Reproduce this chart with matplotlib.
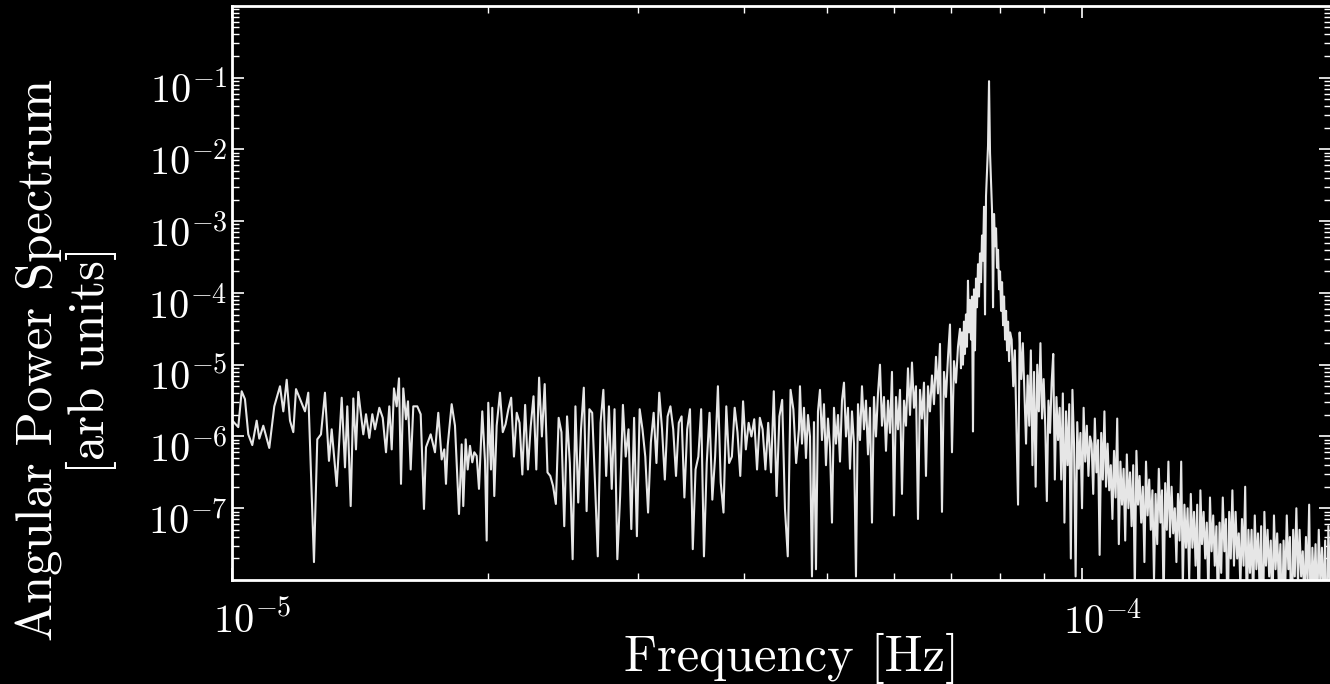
import matplotlib
matplotlib.use("Agg")
import matplotlib.pyplot as plt
import matplotlib.ticker as ticker
import matplotlib.transforms as mtransforms
import numpy as np

# all frequencies below are in units of 1e-5 Hz, powers are log10(P)
F_UNIT = 1e-5

# low-frequency part, read point by point
FREQ_LOW = [
    1.0000, 1.0158, 1.0252, 1.0344, 1.0437, 1.0551, 1.0677, 1.0753, 1.0870, 1.1048,
    1.1199, 1.1374, 1.1476, 1.1582, 1.1686, 1.1791, 1.1878, 1.2170, 1.2279, 1.2470,
    1.2582, 1.2709, 1.2847, 1.2987, 1.3083, 1.3262, 1.3443, 1.3563, 1.3648, 1.3774,
    1.3872, 1.3973, 1.4061, 1.4253, 1.4358, 1.4487, 1.4605, 1.4712, 1.4885, 1.5023,
    1.5157, 1.5293, 1.5393, 1.5488, 1.5602, 1.5700, 1.5785, 1.5883, 1.6000, 1.6087,
    1.6205, 1.6320, 1.6497, 1.6650, 1.6799, 1.6891, 1.7107, 1.7307, 1.7463, 1.7624,
    1.7749, 1.7831, 1.7913, 1.8108, 1.8271, 1.8470, 1.8606, 1.8686, 1.8808, 1.8911,
    1.9029, 1.9148, 1.9252, 1.9377, 1.9498, 1.9673, 1.9818, 1.9909, 1.9995, 2.0142,
    2.0213, 2.0323, 2.0455,
]
LOGP_LOW = [
    -5.78, -5.87, -5.37, -5.48, -5.97, -6.12, -5.78, -6.03, -5.85, -6.16,
    -5.58, -5.30, -5.65, -5.21, -5.78, -5.94, -5.34, -5.65, -5.39, -7.75,
    -6.04, -5.97, -5.39, -6.34, -5.90, -6.69, -5.46, -6.43, -5.58, -6.97,
    -5.47, -6.18, -5.38, -5.97, -5.69, -6.02, -5.69, -5.90, -5.60, -5.74,
    -6.22, -5.58, -6.18, -5.33, -5.58, -5.19, -6.66, -5.33, -5.76, -5.51,
    -6.46, -5.58, -5.58, -5.69, -7.01, -6.15, -5.97, -6.22, -5.67, -6.32,
    -6.18, -6.66, -6.13, -5.55, -5.85, -7.08, -6.11, -6.97, -6.04, -6.46,
    -6.13, -6.36, -6.22, -6.27, -6.73, -5.65, -6.34, -7.45, -5.53, -6.46,
    -5.60, -6.83, -5.85,
]

# denser parts: values read left to right, evenly spaced along the log axis
# between the band edges given
BAND_MID = (2.064, 4.639)
LOGP_MID = [
    -5.39, -5.94, -5.83, -5.62, -5.46, -6.28, -5.67, -5.81, -6.53, -5.56,
    -6.46, -5.86, -5.44, -6.46, -5.18, -6.00, -5.27, -6.50, -6.55, -6.69,
    -6.94, -5.74, -5.94, -7.25, -5.72, -6.37, -7.71, -5.58, -6.92, -5.90,
    -5.32, -7.04, -5.62, -5.67, -6.64, -7.67, -5.81, -5.35, -6.55, -5.58,
    -6.73, -5.62, -7.71, -6.83, -5.56, -6.28, -5.90, -7.29, -5.74, -7.39,
    -5.62, -5.90, -6.28, -7.06, -6.08, -5.67, -6.37, -5.39, -5.90, -6.60,
    -5.72, -5.58, -5.90, -6.55, -5.81, -5.72, -6.85, -5.90, -5.62, -7.57,
    -6.46, -6.28, -5.62, -7.67, -6.37, -5.67, -6.88, -6.28, -5.30, -6.64,
    -7.06, -5.58, -6.37, -6.28, -5.60, -5.94, -6.55, -5.51, -6.18, -5.81,
    -6.00, -5.76, -6.46, -5.74, -5.90, -6.46, -5.81, -6.50, -5.37, -6.83,
    -5.72, -5.49, -7.01, -7.67, -5.35, -5.62, -6.37, -5.90,
]

BAND_FLANK = (4.652, 7.176)
LOGP_FLANK = [
    -5.30, -6.10, -5.60, -6.30, -5.70, -6.00, -7.95, -5.80, -7.85, -5.65,
    -5.35, -6.05, -5.55, -6.40, -5.75, -6.15, -7.20, -5.60, -6.10, -5.70,
    -6.35, -5.50, -5.25, -6.00, -5.60, -6.45, -5.65, -6.10, -7.95, -5.55,
    -6.05, -5.30, -5.90, -5.50, -6.25, -5.60, -7.20, -5.45, -6.00, -5.40,
    -5.00, -5.85, -5.45, -6.20, -5.50, -5.95, -5.10, -7.10, -5.45, -5.90,
    -5.35, -6.80, -5.50, -5.85, -5.05, -5.70, -4.97, -5.60, -5.30, -7.15,
    -5.35, -5.75, -5.25, -6.55, -5.30, -5.65, -5.15, -5.55, -4.89, -5.40,
    -4.71, -7.05, -5.10, -5.45, -4.90, -4.44, -6.22, -4.95, -5.25, -4.75,
    -4.50,
]

BAND_PEAK = (7.195, 8.219)
LOGP_PEAK = [
    -5.05, -4.55, -5.00, -4.40, -4.85, -4.30, -4.75, -3.83, -4.55, -4.10,
    -4.65, -4.05, -5.93, -3.95, -4.80, -3.80, -4.20, -3.60, -4.05, -3.45,
    -3.85, -3.20, -3.55, -2.80, -4.30, -2.65, -2.30, -1.95, -1.05, -2.05,
    -2.45, -2.85, -4.20, -2.90, -3.35, -3.10, -3.65, -3.40, -3.95, -3.70,
    -4.25, -3.85, -4.45, -4.05, -4.65, -4.25, -4.80, -4.40, -4.95, -4.55,
]

BAND_TAIL = (8.254, 19.55)
LOGP_TAIL = [
    -4.65, -5.30, -4.80, -5.85, -6.95, -4.55, -5.20, -4.70, -5.40, -6.10,
    -5.15, -5.85, -4.80, -6.40, -5.10, -6.70, -5.00, -5.65, -4.70, -5.75,
    -5.20, -5.85, -6.90, -5.50, -5.95, -5.25, -4.85, -6.60, -5.45, -6.05,
    -5.60, -6.60, -5.40, -7.20, -5.65, -6.40, -5.55, -7.70, -5.35, -6.10,
    -7.95, -5.80, -6.45, -5.95, -7.00, -5.60, -6.35, -5.85, -6.55, -6.00,
    -6.10, -6.80, -5.75, -6.50, -6.05, -7.65, -5.95, -6.60, -5.65, -6.70,
    -6.10, -6.75, -6.40, -7.15, -6.20, -6.85, -5.75, -7.50, -6.35, -6.95,
    -6.45, -7.45, -6.25, -7.00, -6.50, -7.25, -6.40, -8.15, -6.20, -6.95,
    -6.55, -7.20, -6.70, -7.75, -6.35, -7.10, -6.60, -7.30, -6.75, -8.00,
    -6.80, -7.50, -6.45, -7.20, -6.75, -8.35, -6.65, -7.30, -6.35, -7.40,
    -6.70, -7.35, -7.00, -7.75, -6.80, -7.45, -6.35, -8.10, -6.95, -7.55,
    -7.00, -8.00, -6.80, -7.55, -7.05, -7.80, -6.95, -8.70, -6.75, -7.50,
    -7.05, -7.70, -7.20, -8.25, -6.85, -7.60, -7.10, -7.80, -7.25, -8.50,
    -7.20, -7.90, -6.85, -7.60, -7.15, -8.75, -7.05, -7.70, -6.75, -7.80,
    -7.05, -7.70, -7.35, -8.10, -7.15, -7.80, -6.70, -8.45, -7.30, -7.90,
    -7.30, -8.30, -7.10, -7.85, -7.35, -8.10, -7.25, -9.00, -7.05, -7.80,
    -7.30, -7.95, -7.45, -8.50, -7.10, -7.85, -7.35, -8.05, -7.50, -8.75,
    -7.45, -8.15, -7.10, -7.85, -7.40, -9.00, -7.30, -7.95, -7.00, -8.05,
    -7.30, -7.95, -7.60, -8.35, -7.40, -8.05, -6.95, -8.70, -7.55, -8.15,
    -7.50, -8.50, -7.30, -8.05, -7.55, -8.30, -7.45, -9.20, -7.25, -8.00,
]

Y_TICKS = [1e-7, 1e-6, 1e-5, 1e-4, 1e-3, 1e-2, 1e-1]
X_TICKS = [1e-5, 1e-4]

plt.rcParams["mathtext.fontset"] = "cm"
LABEL_FONT = "cmr10"


def _spectrum():
    freqs = [np.array(FREQ_LOW)]
    logp = [np.array(LOGP_LOW)]
    for band, vals in [(BAND_MID, LOGP_MID), (BAND_FLANK, LOGP_FLANK),
                       (BAND_PEAK, LOGP_PEAK), (BAND_TAIL, LOGP_TAIL)]:
        freqs.append(np.geomspace(band[0], band[1], len(vals)))
        logp.append(np.array(vals))
    return np.concatenate(freqs) * F_UNIT, 10.0 ** np.concatenate(logp)


def _pow10(v, _pos):
    return rf"$10^{{{int(round(np.log10(v)))}}}$"


freq, power = _spectrum()

fig = plt.figure(figsize=(13.3, 6.84), dpi=100, facecolor="black")
ax = fig.add_axes([0.1748, 0.152, 0.8263, 0.8395], facecolor="black")

ax.plot(freq, power, color="#e6e6e6", lw=1.5)

ax.set_xscale("log")
ax.set_yscale("log")
ax.set_xlim(1e-5, 1.963e-4)
ax.set_ylim(1e-8, 1)

ax.xaxis.set_major_locator(ticker.FixedLocator(X_TICKS))
ax.yaxis.set_major_locator(ticker.FixedLocator(Y_TICKS))
ax.xaxis.set_minor_locator(ticker.LogLocator(base=10, subs=np.arange(2, 10), numticks=20))
ax.yaxis.set_minor_locator(ticker.LogLocator(base=10, subs=np.arange(2, 10), numticks=20))
ax.xaxis.set_major_formatter(ticker.FuncFormatter(_pow10))
ax.yaxis.set_major_formatter(ticker.FuncFormatter(_pow10))
ax.xaxis.set_minor_formatter(ticker.NullFormatter())
ax.yaxis.set_minor_formatter(ticker.NullFormatter())

for sp in ax.spines.values():
    sp.set_color("white")
    sp.set_linewidth(2)

ax.tick_params(which="both", direction="in", colors="white",
               top=True, right=True)
ax.tick_params(which="major", length=8.5, width=1.2, labelsize=29)
ax.tick_params(which="minor", length=5, width=1)
ax.tick_params(axis="y", which="major", pad=3.5)
ax.tick_params(axis="x", which="major", pad=16)

# tick labels in the original sit a little off their ticks
shift_x = mtransforms.ScaledTranslation(0.20, 0, fig.dpi_scale_trans)
shift_y = mtransforms.ScaledTranslation(0, -0.10, fig.dpi_scale_trans)
for lab in ax.xaxis.get_majorticklabels():
    lab.set_transform(lab.get_transform() + shift_x)
for lab in ax.yaxis.get_majorticklabels():
    lab.set_transform(lab.get_transform() + shift_y)

fig.text(0.05, 0.4737, "Angular Power Spectrum\n[arb units]",
         rotation=90, ha="center", va="center", multialignment="center",
         fontsize=36.5, linespacing=1.1, color="white", family=LABEL_FONT)
fig.text(0.5955, 0.019, "Frequency [Hz]", ha="center", va="baseline",
         fontsize=36.5, color="white", family=LABEL_FONT)

fig.savefig("out.png", dpi=100, facecolor="black")
plt.close(fig)
